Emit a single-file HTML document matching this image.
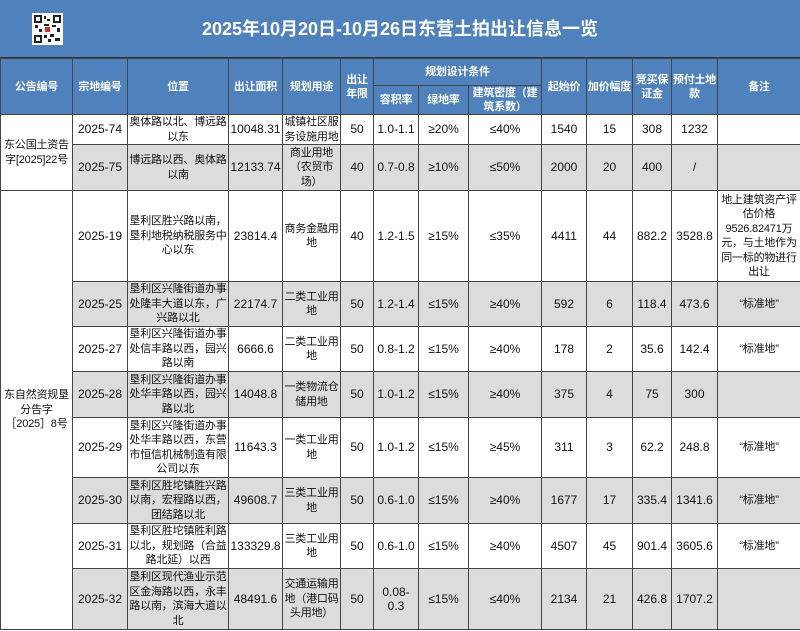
<!DOCTYPE html>
<html><head><meta charset="utf-8"><style>
html,body{margin:0;padding:0;background:#fff}
body{width:800px;height:631px;overflow:hidden;position:relative;font-family:"Liberation Sans","Noto Sans CJK SC",sans-serif}
.title{position:absolute;left:0;top:0;width:800px;height:58px;background:#4f81bd;color:#fff;font-weight:bold;font-size:18px;line-height:58px;text-align:center;border-bottom:1px solid #333;box-sizing:border-box}
.qr{position:absolute;left:32px;top:13px;width:31px;height:32px;background:#fff}
table{position:absolute;left:0;top:58px;border-collapse:collapse;table-layout:fixed;width:800px}
td{border:1px solid #444;font-size:11px;letter-spacing:-0.2px;line-height:14.5px;text-align:center;vertical-align:middle;padding:0;overflow:hidden;color:#111}
td.n{font-size:12px;letter-spacing:0}
tr.h td{background:#4f81bd;color:#fff;font-weight:bold;line-height:14px}
tr.g td{background:#dcdcdc}
tr td.w{background:#fff}
</style></head><body>
<div class="title">2025年10月20日-10月26日东营土拍出让信息一览</div>
<svg class="qr" viewBox="0 0 31 32"><rect width="31" height="32" fill="#fff"/>
<g fill="#222"><rect x="2" y="2" width="8" height="8"/><rect x="21" y="2" width="8" height="8"/><rect x="2" y="22" width="8" height="8"/>
<rect x="4" y="4" width="4" height="4" fill="#fff"/><rect x="23" y="4" width="4" height="4" fill="#fff"/><rect x="4" y="24" width="4" height="4" fill="#fff"/>
<rect x="12" y="3" width="2" height="3"/><rect x="15" y="6" width="3" height="2"/><rect x="12" y="11" width="5" height="2"/><rect x="3" y="12" width="3" height="3"/><rect x="20" y="12" width="4" height="2"/><rect x="25" y="15" width="3" height="4"/><rect x="12" y="22" width="3" height="3"/><rect x="18" y="21" width="4" height="3"/><rect x="23" y="25" width="5" height="3"/><rect x="7" y="16" width="3" height="3"/><rect x="16" y="26" width="3" height="3"/></g>
<rect x="13" y="14" width="5" height="5" fill="#c33"/></svg>
<table>
<colgroup><col style="width:72px"><col style="width:55px"><col style="width:101px"><col style="width:54px"><col style="width:58px"><col style="width:33px"><col style="width:45px"><col style="width:50px"><col style="width:73px"><col style="width:45px"><col style="width:46px"><col style="width:39px"><col style="width:46px"><col style="width:83px"></colgroup>
<tr class="h" style="height:27px"><td rowspan="2">公告编号</td><td rowspan="2">宗地编号</td><td rowspan="2">位置</td><td rowspan="2">出让面积</td><td rowspan="2">规划用途</td><td rowspan="2">出让年限</td><td colspan="3">规划设计条件</td><td rowspan="2">起始价</td><td rowspan="2">加价幅度</td><td rowspan="2">竞买保证金</td><td rowspan="2">预付土地款</td><td rowspan="2">备注</td></tr>
<tr class="h" style="height:29px"><td>容积率</td><td>绿地率</td><td>建筑密度（建筑系数）</td></tr>
<tr style="height:30px"><td class="w" rowspan="2">东公国土资告字[2025]22号</td><td class="n">2025-74</td><td>奥体路以北、博远路以东</td><td class="n">10048.31</td><td>城镇社区服务设施用地</td><td class="n">50</td><td class="n">1.0-1.1</td><td class="n">≥20%</td><td class="n">≤40%</td><td class="n">1540</td><td class="n">15</td><td class="n">308</td><td class="n">1232</td><td></td></tr>
<tr class="g" style="height:46px"><td class="n">2025-75</td><td>博远路以西、奥体路以南</td><td class="n">12133.74</td><td>商业用地（农贸市场）</td><td class="n">40</td><td class="n">0.7-0.8</td><td class="n">≥10%</td><td class="n">≤50%</td><td class="n">2000</td><td class="n">20</td><td class="n">400</td><td class="n">/</td><td></td></tr>
<tr style="height:91px"><td class="w" rowspan="8">东自然资规垦分告字［2025］8号</td><td class="n">2025-19</td><td>垦利区胜兴路以南，垦利地税纳税服务中心以东</td><td class="n">23814.4</td><td>商务金融用地</td><td class="n">40</td><td class="n">1.2-1.5</td><td class="n">≥15%</td><td class="n">≤35%</td><td class="n">4411</td><td class="n">44</td><td class="n">882.2</td><td class="n">3528.8</td><td>地上建筑资产评估价格9526.82471万元，与土地作为同一标的物进行出让</td></tr>
<tr class="g" style="height:45px"><td class="n">2025-25</td><td>垦利区兴隆街道办事处隆丰大道以东，广兴路以北</td><td class="n">22174.7</td><td>二类工业用地</td><td class="n">50</td><td class="n">1.2-1.4</td><td class="n">≤15%</td><td class="n">≥40%</td><td class="n">592</td><td class="n">6</td><td class="n">118.4</td><td class="n">473.6</td><td>“标准地”</td></tr>
<tr style="height:45px"><td class="n">2025-27</td><td>垦利区兴隆街道办事处信丰路以西，园兴路以南</td><td class="n">6666.6</td><td>二类工业用地</td><td class="n">50</td><td class="n">0.8-1.2</td><td class="n">≤15%</td><td class="n">≥40%</td><td class="n">178</td><td class="n">2</td><td class="n">35.6</td><td class="n">142.4</td><td>“标准地”</td></tr>
<tr class="g" style="height:46px"><td class="n">2025-28</td><td>垦利区兴隆街道办事处华丰路以西，园兴路以北</td><td class="n">14048.8</td><td>一类物流仓储用地</td><td class="n">50</td><td class="n">1.0-1.2</td><td class="n">≤15%</td><td class="n">≥40%</td><td class="n">375</td><td class="n">4</td><td class="n">75</td><td class="n">300</td><td></td></tr>
<tr style="height:60px"><td class="n">2025-29</td><td>垦利区兴隆街道办事处华丰路以西，东营市恒信机械制造有限公司以东</td><td class="n">11643.3</td><td>一类工业用地</td><td class="n">50</td><td class="n">1.0-1.2</td><td class="n">≤15%</td><td class="n">≥45%</td><td class="n">311</td><td class="n">3</td><td class="n">62.2</td><td class="n">248.8</td><td>“标准地”</td></tr>
<tr class="g" style="height:46px"><td class="n">2025-30</td><td>垦利区胜坨镇胜兴路以南，宏程路以西，团结路以北</td><td class="n">49608.7</td><td>三类工业用地</td><td class="n">50</td><td class="n">0.6-1.0</td><td class="n">≤15%</td><td class="n">≥40%</td><td class="n">1677</td><td class="n">17</td><td class="n">335.4</td><td class="n">1341.6</td><td>“标准地”</td></tr>
<tr style="height:45px"><td class="n">2025-31</td><td>垦利区胜坨镇胜利路以北，规划路（合益路北延）以西</td><td class="n">133329.8</td><td>三类工业用地</td><td class="n">50</td><td class="n">0.6-1.0</td><td class="n">≤15%</td><td class="n">≥40%</td><td class="n">4507</td><td class="n">45</td><td class="n">901.4</td><td class="n">3605.6</td><td>“标准地”</td></tr>
<tr class="g" style="height:61px"><td class="n">2025-32</td><td>垦利区现代渔业示范区金海路以西，永丰路以南，滨海大道以北</td><td class="n">48491.6</td><td>交通运输用地（港口码头用地）</td><td class="n">50</td><td class="n">0.08-0.3</td><td class="n">≤15%</td><td class="n">≤40%</td><td class="n">2134</td><td class="n">21</td><td class="n">426.8</td><td class="n">1707.2</td><td></td></tr>
</table>
</body></html>
